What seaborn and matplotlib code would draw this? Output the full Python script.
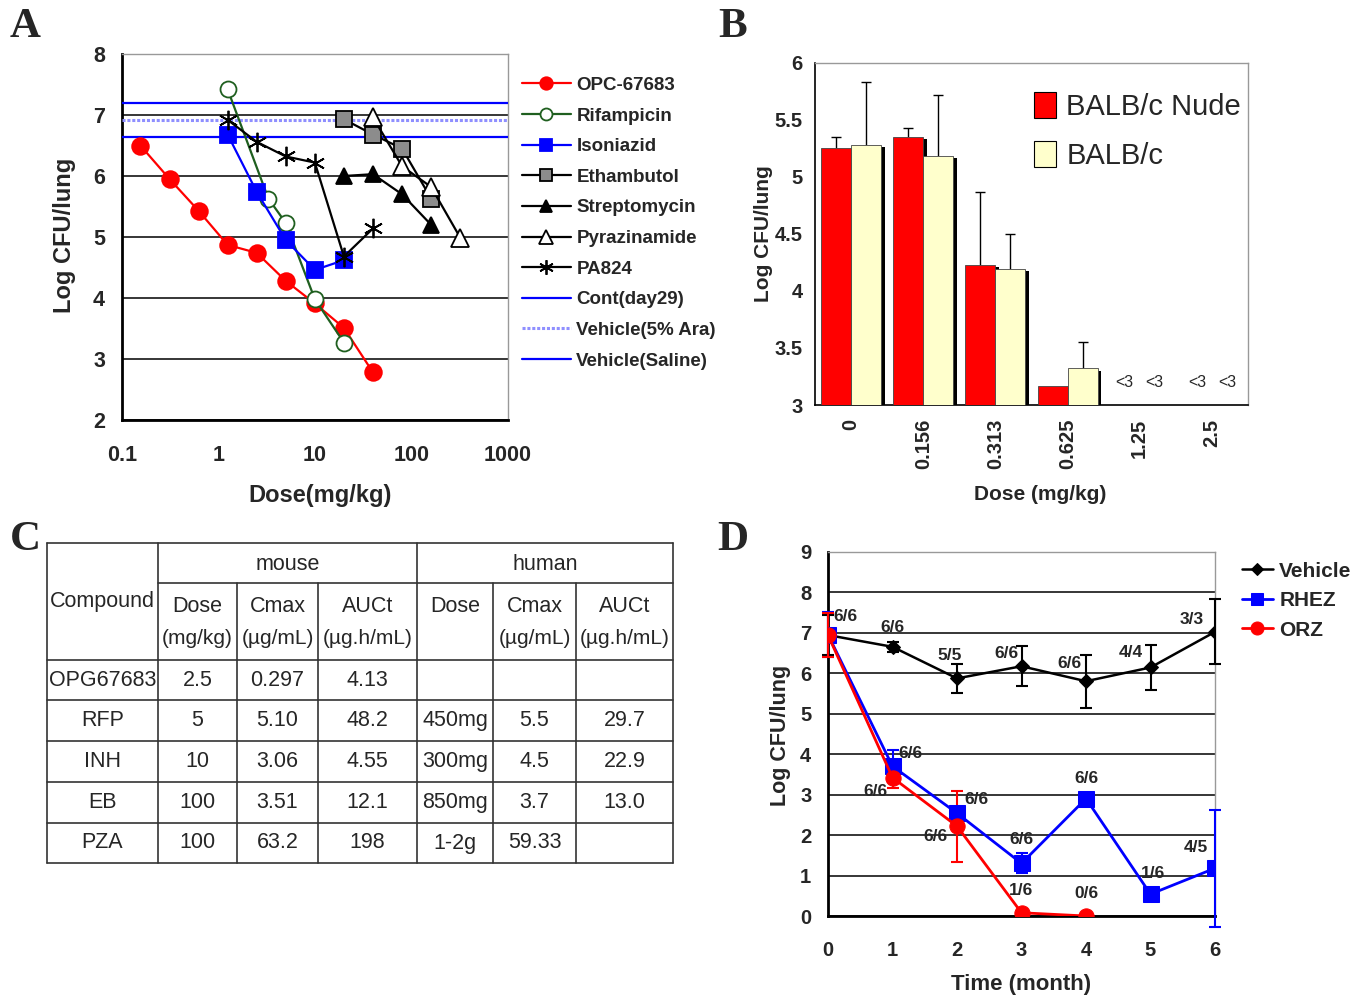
import matplotlib

matplotlib.use("Agg")
import matplotlib.pyplot as plt
import matplotlib.patheffects as pe
from matplotlib.patches import Patch
import pandas as pd
import seaborn as sns

# ---------------- panel A: dose response ----------------
opc_dose = [0.156, 0.313, 0.625, 1.25, 2.5, 5, 10, 20, 40]
opc_cfu = [6.5, 5.95, 5.43, 4.87, 4.74, 4.28, 3.91, 3.51, 2.78]
rfp_dose = [1.25, 3.3, 5, 10, 20]
rfp_cfu = [7.42, 5.63, 5.23, 3.98, 3.27]
inh_dose = [1.25, 2.5, 5, 10, 20]
inh_cfu = [6.68, 5.74, 4.95, 4.46, 4.62]
emb_dose = [20, 40, 80, 160]
emb_cfu = [6.93, 6.68, 6.45, 5.63]
sm_dose = [20, 40, 80, 160]
sm_cfu = [6.0, 6.03, 5.7, 5.2]
pza_dose = [40, 80, 160, 320]
pza_cfu = [6.96, 6.16, 5.82, 4.99]
pa_dose = [1.25, 2.5, 5, 10, 20, 40]
pa_cfu = [6.92, 6.56, 6.32, 6.22, 4.68, 5.14]
cont_day29 = 7.2
vehicle_ara = 6.91
vehicle_saline = 6.64

# ---------------- panel B: nude vs normal mice ----------------
b_doses = ["0", "0.156", "0.313", "0.625", "1.25", "2.5"]
nude_mean = [5.25, 5.35, 4.23, 3.17]
nude_sd = [0.10, 0.08, 0.64, 0.0]
balb_mean = [5.28, 5.18, 4.19, 3.32]
balb_sd = [0.55, 0.54, 0.31, 0.23]
below_limit = "<3"

# ---------------- panel C: PK table ----------------
tbl_compound = ["OPG67683", "RFP", "INH", "EB", "PZA"]
mouse_dose = ["2.5", "5", "10", "100", "100"]
mouse_cmax = ["0.297", "5.10", "3.06", "3.51", "63.2"]
mouse_auc = ["4.13", "48.2", "4.55", "12.1", "198"]
human_dose = ["", "450mg", "300mg", "850mg", "1-2g"]
human_cmax = ["", "5.5", "4.5", "3.7", "59.33"]
human_auc = ["", "29.7", "22.9", "13.0", ""]

# ---------------- panel D: time course ----------------
months = [0, 1, 2, 3, 4, 5, 6]
veh_cfu = [6.94, 6.65, 5.87, 6.17, 5.80, 6.14, 7.02]
veh_err = [0.5, 0.12, 0.35, 0.5, 0.65, 0.55, 0.8]
veh_n = ["6/6", "6/6", "5/5", "6/6", "6/6", "4/4", "3/3"]
rhez_cfu = [6.95, 3.70, 2.54, 1.30, 2.90, 0.54, 1.18]
rhez_err = [0.55, 0.4, 0.1, 0.25, 0.0, 0.0, 1.45]
rhez_n = ["", "6/6", "6/6", "6/6", "6/6", "1/6", "4/5"]
orz_months = [0, 1, 2, 3, 4]
orz_cfu = [6.94, 3.42, 2.22, 0.08, 0.0]
orz_err = [0.55, 0.27, 0.88, 0.0, 0.0]
orz_n = ["", "6/6", "6/6", "1/6", "0/6"]

# label offsets in pixels (layout only)
veh_off = [(17, 19), (0, 19), (-7, 23), (-15, 13), (-17, 18), (-20, 15), (-23, 12)]
rhez_off = [(0, 0), (18, 13), (19, 14), (0, 24), (0, 20), (2, 21), (-19, 21)]
orz_off = [(0, 0), (-17, -14), (-22, -10), (0, 22), (0, 22)]

RED = "#ff0000"
BLUE = "#0000ff"
GREEN = "#1f5f1f"
CREAM = "#ffffcc"

sns.set_style("white")
plt.rcParams["font.family"] = ["Liberation Sans", "DejaVu Sans"]

W, H = 1366, 999
fig = plt.figure(figsize=(W / 100, H / 100), dpi=100)


def box(l, t, r, b):
    return [l / W, 1 - b / H, (r - l) / W, (b - t) / H]


def frame(ax):
    for s in ("left", "bottom"):
        ax.spines[s].set_color("black")
        ax.spines[s].set_linewidth(2)
    for s in ("top", "right"):
        ax.spines[s].set_color("#999999")
        ax.spines[s].set_linewidth(1)


# ======================= A =======================
axA = fig.add_axes(box(121.7, 54, 508, 420))
series_a = [
    ("OPC-67683", opc_dose, opc_cfu, dict(color=RED, marker="o", markersize=12,
                                         markerfacecolor=RED, markeredgecolor=RED)),
    ("Rifampicin", rfp_dose, rfp_cfu, dict(color=GREEN, marker="o", markersize=11.5,
                                          markerfacecolor="white", markeredgecolor=GREEN)),
    ("Isoniazid", inh_dose, inh_cfu, dict(color=BLUE, marker="s", markersize=11.5,
                                         markerfacecolor=BLUE, markeredgecolor=BLUE)),
    ("Ethambutol", emb_dose, emb_cfu, dict(color="black", marker="s", markersize=11.5,
                                          markerfacecolor="#8c8c8c", markeredgecolor="black")),
    ("Streptomycin", sm_dose, sm_cfu, dict(color="black", marker="^", markersize=11.5,
                                          markerfacecolor="black", markeredgecolor="black")),
    ("Pyrazinamide", pza_dose, pza_cfu, dict(color="black", marker="^", markersize=12.5,
                                            markerfacecolor="white", markeredgecolor="black")),
    ("PA824", pa_dose, pa_cfu, dict(color="black", marker=(6, 2, 0), markersize=14,
                                   markerfacecolor="black", markeredgecolor="black")),
]
for label, xs, ys, kw in series_a:
    sns.lineplot(x=xs, y=ys, ax=axA, label=label, sort=False, errorbar=None,
                 linewidth=1.6, markeredgewidth=1.3, zorder=4, **kw)
axA.axhline(cont_day29, color=BLUE, lw=1.6, label="Cont(day29)", zorder=3)
axA.axhline(vehicle_ara, color="#8f8fff", lw=2.2, ls=(0, (1, 0.6)), label="Vehicle(5% Ara)", zorder=3)
axA.axhline(vehicle_saline, color=BLUE, lw=1.6, label="Vehicle(Saline)", zorder=3)

axA.set_xscale("log")
axA.set_xlim(0.1, 1000)
axA.set_ylim(2, 8)
axA.set_xticks([0.1, 1, 10, 100, 1000], ["0.1", "1", "10", "100", "1000"])
axA.set_yticks([2, 3, 4, 5, 6, 7, 8])
axA.grid(axis="y", color="black", lw=1.1)
axA.grid(axis="x", visible=False)
axA.tick_params(axis="both", which="both", direction="in", labelsize=15.5)
axA.tick_params(axis="x", which="major", length=5, pad=18)
axA.tick_params(axis="x", which="minor", length=3)
axA.tick_params(axis="y", length=5, pad=12)
for t in axA.get_xticklabels() + axA.get_yticklabels():
    t.set_fontweight("bold")
frame(axA)
axA.set_xlabel("Dose(mg/kg)", fontsize=17, fontweight="bold")
axA.set_ylabel("Log CFU/lung", fontsize=17, fontweight="bold")
axA.xaxis.set_label_coords(0.513, -0.175)
axA.yaxis.set_label_coords(-0.118, 0.505)
hA, lA = axA.get_legend_handles_labels()
axA.legend(hA, lA, loc="upper left", bbox_to_anchor=(505 / W, 1 - 60 / H),
           bbox_transform=fig.transFigure, frameon=False,
           prop={"weight": "bold", "size": 13.5}, handlelength=2.6,
           handletextpad=0.3, labelspacing=0.72, markerscale=0.75)

# ======================= B =======================
axB = fig.add_axes(box(815, 62.7, 1248, 405))
n_b = len(nude_mean)
df_b = pd.DataFrame({
    "dose": b_doses[:n_b] * 2,
    "strain": ["BALB/c Nude"] * n_b + ["BALB/c"] * n_b,
    "cfu": nude_mean + balb_mean,
})
sns.barplot(data=df_b, x="dose", y="cfu", hue="strain", order=b_doses,
            hue_order=["BALB/c Nude", "BALB/c"], palette=[RED, CREAM], saturation=1,
            width=0.83, errorbar=None, edgecolor="#444444", linewidth=0.6,
            legend=False, ax=axB, zorder=3)
sds = [nude_sd, balb_sd]
for k, cont in enumerate(axB.containers):
    for bar in cont:
        h = bar.get_height()
        if h != h:
            continue
        bar.set_path_effects([pe.SimplePatchShadow(offset=(2.6, -1.6), shadow_rgbFace="black", alpha=1.0),
                              pe.Normal()])
        xc = bar.get_x() + bar.get_width() / 2
        i = int(round(xc))
        sd = sds[k][i]
        if sd > 0:
            axB.vlines(xc, h, h + sd, color="black", lw=1, zorder=2)
            axB.hlines(h + sd, xc - 0.07, xc + 0.07, color="black", lw=1, zorder=2)
half = 0.83 / 4
for i in range(n_b, len(b_doses)):
    for dx in (-half, half):
        axB.text(i + dx, 3.2, below_limit, ha="center", va="center", fontsize=11.5)
axB.set_xlim(-0.5, len(b_doses) - 0.5)
axB.set_ylim(3, 6)
axB.set_yticks([3, 3.5, 4, 4.5, 5, 5.5, 6], ["3", "3.5", "4", "4.5", "5", "5.5", "6"])
axB.tick_params(axis="both", direction="in", length=0, labelsize=14.5)
axB.tick_params(axis="y", pad=9)
axB.tick_params(axis="x", pad=10)
for t in axB.get_xticklabels():
    t.set_rotation(90)
for t in axB.get_xticklabels() + axB.get_yticklabels():
    t.set_fontweight("bold")
frame(axB)
axB.spines["left"].set_linewidth(1.2)
axB.spines["bottom"].set_linewidth(1.2)
axB.set_xlabel("Dose (mg/kg)", fontsize=15, fontweight="bold")
axB.set_ylabel("Log CFU/lung", fontsize=15, fontweight="bold")
axB.xaxis.set_label_coords(0.52, -0.234)
axB.yaxis.set_label_coords(-0.097, 0.5)
hB = [Patch(facecolor=RED, edgecolor="black", lw=0.8), Patch(facecolor=CREAM, edgecolor="black", lw=0.8)]
axB.legend(hB, ["BALB/c Nude", "BALB/c"], loc="upper left",
           bbox_to_anchor=(1008 / W, 1 - 66 / H), bbox_transform=fig.transFigure,
           frameon=False, fontsize=21, handlelength=0.75, handleheight=1.0,
           handletextpad=0.35, labelspacing=0.68)

# ======================= C (table) =======================
axC = fig.add_axes(box(47, 543, 673, 863))
axC.set_xlim(0, 626)
axC.set_ylim(320, 0)
axC.axis("off")
col_edges = [0, 111, 190, 271, 370, 446, 529, 626]
row_edges = [0, 40, 117, 157, 198, 239, 280, 320]
lc = "#333333"
for y in (0, 320):
    axC.plot([0, 626], [y, y], color=lc, lw=1.2, clip_on=False)
for y in row_edges[2:-1]:
    axC.plot([0, 626], [y, y], color=lc, lw=1.2, clip_on=False)
axC.plot([col_edges[1], 626], [40, 40], color=lc, lw=1.2, clip_on=False)
for x in (0, col_edges[1], col_edges[4], 626):
    axC.plot([x, x], [0, 320], color=lc, lw=1.2, clip_on=False)
for x in (col_edges[2], col_edges[3], col_edges[5], col_edges[6]):
    axC.plot([x, x], [40, 320], color=lc, lw=1.2, clip_on=False)

tfs = 15.5
axC.text(55, 59, "Compound", ha="center", va="center", fontsize=tfs)
axC.text((col_edges[1] + col_edges[4]) / 2, 22, "mouse", ha="center", va="center", fontsize=tfs)
axC.text((col_edges[4] + col_edges[7]) / 2, 22, "human", ha="center", va="center", fontsize=tfs)
head1 = ["Dose", "Cmax", "AUCt", "Dose", "Cmax", "AUCt"]
head2 = ["(mg/kg)", "(\u00b5g/mL)", "(\u00b5g.h/mL)", "", "(\u00b5g/mL)", "(\u00b5g.h/mL)"]
for j in range(6):
    xc = (col_edges[j + 1] + col_edges[j + 2]) / 2
    axC.text(xc, 63, head1[j], ha="center", va="center", fontsize=tfs)
    axC.text(xc, 96, head2[j], ha="center", va="center", fontsize=tfs - 0.5)
cols = [tbl_compound, mouse_dose, mouse_cmax, mouse_auc, human_dose, human_cmax, human_auc]
for j, col in enumerate(cols):
    xc = (col_edges[j] + col_edges[j + 1]) / 2
    for i, val in enumerate(col):
        yc = (row_edges[i + 2] + row_edges[i + 3]) / 2
        axC.text(xc, yc, val, ha="center", va="center", fontsize=tfs)

# ======================= D =======================
axD = fig.add_axes(box(828, 551.7, 1215, 916))
specs_d = [
    ("Vehicle", months, veh_cfu, veh_err, "black", "D", 7, 1.8),
    ("RHEZ", months, rhez_cfu, rhez_err, BLUE, "s", 11, 2.0),
    ("ORZ", orz_months, orz_cfu, orz_err, RED, "o", 11, 2.0),
]
for label, xs, ys, es, c, m, ms, lw in specs_d:
    sns.lineplot(x=xs, y=ys, ax=axD, label=label, sort=False, errorbar=None,
                 color=c, marker=m, markersize=ms, markerfacecolor=c,
                 markeredgecolor=c, linewidth=lw, zorder=4)
    ex = [x for x, e in zip(xs, es) if e > 0]
    ey = [y for y, e in zip(ys, es) if e > 0]
    ee = [e for e in es if e > 0]
    eb = axD.errorbar(ex, ey, yerr=ee, fmt="none", ecolor=c, elinewidth=1.5,
                      capsize=4, capthick=1.5, zorder=3)
    for art in eb.lines[1] + eb.lines[2]:
        art.set_clip_on(False)

for xs, ys, labels, offs in [(months, veh_cfu, veh_n, veh_off),
                             (months, rhez_cfu, rhez_n, rhez_off),
                             (orz_months, orz_cfu, orz_n, orz_off)]:
    for x, y, t, (dx, dy) in zip(xs, ys, labels, offs):
        if t:
            axD.annotate(t, (x, y), xytext=(dx, dy), textcoords="offset pixels",
                         ha="center", va="center", fontsize=12.5, fontweight="bold")

axD.set_xlim(0, 6)
axD.set_ylim(0, 9)
axD.set_xticks(months)
axD.set_yticks(range(10))
axD.grid(axis="y", color="black", lw=1.1)
axD.grid(axis="x", visible=False)
axD.tick_params(axis="both", direction="in", length=4, labelsize=14.5)
axD.tick_params(axis="x", pad=18)
axD.tick_params(axis="y", pad=12)
for t in axD.get_xticklabels() + axD.get_yticklabels():
    t.set_fontweight("bold")
frame(axD)
axD.set_xlabel("Time (month)", fontsize=16, fontweight="bold")
axD.set_ylabel("Log CFU/lung", fontsize=15.5, fontweight="bold")
axD.xaxis.set_label_coords(0.5, -0.158)
axD.yaxis.set_label_coords(-0.096, 0.497)
hD, lD = axD.get_legend_handles_labels()
axD.legend(hD, lD, loc="upper left", bbox_to_anchor=(1223 / W, 1 - 543 / H),
           bbox_transform=fig.transFigure, frameon=False,
           prop={"weight": "bold", "size": 15}, handlelength=1.5,
           handletextpad=0.3, labelspacing=0.5, markerscale=0.85)

# panel letters
for letter, (px, py) in zip("ABCD", [(25, 27), (733, 27), (25, 540), (733, 540)]):
    fig.text(px / W, 1 - py / H, letter, ha="center", va="center", fontsize=31,
             fontweight="bold", family=["Liberation Serif", "DejaVu Serif"])

fig.savefig("out.png", dpi=100)
plt.close(fig)
